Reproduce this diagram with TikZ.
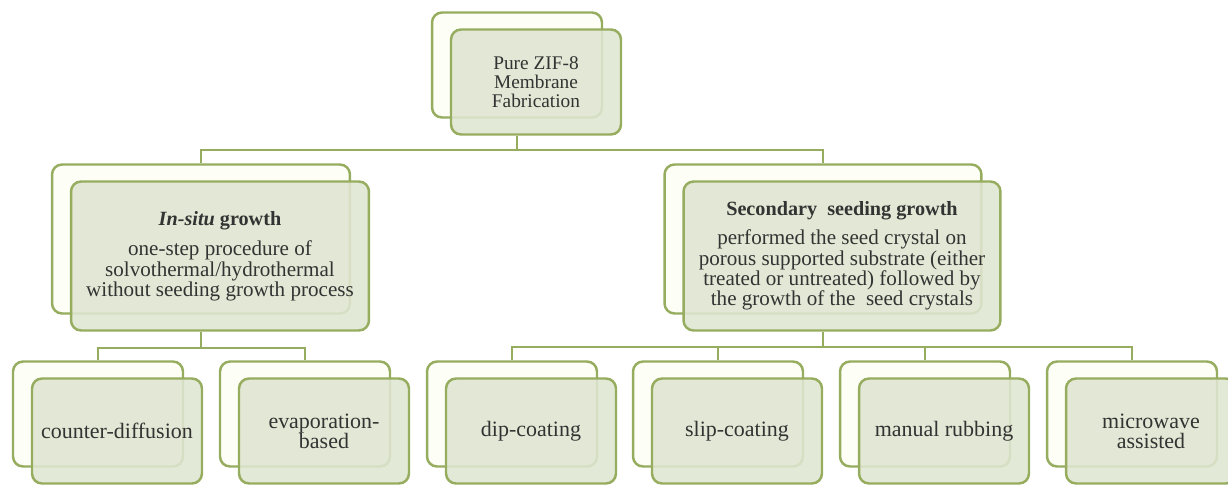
\documentclass[tikz,border=0pt]{standalone}
\usepackage{fontspec}
\setmainfont{Liberation Serif}
\usetikzlibrary{positioning}

\definecolor{leaf}{RGB}{150,172,94}
\definecolor{leafpale}{RGB}{223,230,209}
\definecolor{cream}{RGB}{253,254,246}

\tikzset{
  back box/.style={draw=leaf, fill=cream, rounded corners=0.2cm, line width=1.4pt},
  front box/.style={draw=leaf, fill=leafpale, fill opacity=0.88, text opacity=1,
    rounded corners=0.2cm, line width=1.4pt, align=center, text=black!80,
    xshift=0.38cm, yshift=-0.34cm},
  small/.style={minimum width=3.4cm, minimum height=2.1cm},
  link/.style={draw=leaf, line width=1.4pt},
}

\begin{document}
\begin{tikzpicture}[x=0.02cm, y=-0.02cm]
	\useasboundingbox (0,0) rectangle (1228,484);
	\begin{scope}[every node/.style={back box}]
		\node[small] (fabb) at (517,65) {};
		\node[minimum width=5.96cm, minimum height=2.98cm] (insitub) at (201,239) {};
		\node[minimum width=6.34cm, minimum height=2.98cm] (secondb) at (823,239) {};
		\node[small] (cdb) at (98,414) {};
		\node[small] (evapb) at (305,414) {};
		\node[small] (dipb) at (512,414) {};
		\node[small] (slipb) at (718,414) {};
		\node[small] (rubb) at (925,414) {};
		\node[small] (microb) at (1132,414) {};
	\end{scope}
	\begin{scope}[every node/.style={front box}]
		\node[small, font=\fontsize{11}{11}\selectfont] (fab) at (fabb) {Pure ZIF-8\\ Membrane\\ Fabrication};
		\node[minimum width=5.96cm, minimum height=2.98cm, font=\fontsize{12}{11.5}\selectfont] (insitu) at (insitub)
			{{\fontsize{11.5}{11.5}\selectfont\textbf{\textit{In-situ} growth}}\\[6pt]
			 one-step procedure of\\ solvothermal/hydrothermal\\ without seeding growth process};
		\node[minimum width=6.34cm, minimum height=2.98cm, font=\fontsize{12}{11.5}\selectfont] (second) at (secondb)
			{{\fontsize{11.5}{11.5}\selectfont\textbf{Secondary\ \ seeding growth}}\\[5pt]
			 performed the seed crystal on\\ porous supported substrate (either\\
			 treated or untreated) followed by\\ the growth of the\ \ seed crystals};
		\node[small, font=\fontsize{12.5}{11.5}\selectfont] (cd) at (cdb) {counter-diffusion};
		\node[small, font=\fontsize{12.5}{11.5}\selectfont] (evap) at (evapb) {evaporation-\\based};
		\node[small, font=\fontsize{12.5}{11.5}\selectfont] (dip) at (dipb) {dip-coating};
		\node[small, font=\fontsize{12.5}{11.5}\selectfont] (slip) at (slipb) {slip-coating};
		\node[small, font=\fontsize{12.5}{11.5}\selectfont] (rub) at (rubb) {manual rubbing};
		\node[small, font=\fontsize{12.5}{11.5}\selectfont] (micro) at (microb) {microwave\\ assisted};
	\end{scope}
	% connectors
	\coordinate (bus1) at (0,150);
	\coordinate (bus2) at (0,348);
	\coordinate (bus3) at (0,347);
	\draw[link] (fabb.south |- fab.south) -- (fabb.south |- bus1) -| (insitub.north);
	\draw[link] (fabb.south |- bus1) -| (secondb.north);
	\draw[link] (insitub.south |- insitu.south) -- (insitub.south |- bus2) -| (cdb.north);
	\draw[link] (insitub.south |- bus2) -| (evapb.north);
	\draw[link] (secondb.south |- second.south) -- (secondb.south |- bus3);
	\foreach \n in {dipb,slipb,rubb,microb}
		\draw[link] (secondb.south |- bus3) -| (\n.north);
\end{tikzpicture}
\end{document}
